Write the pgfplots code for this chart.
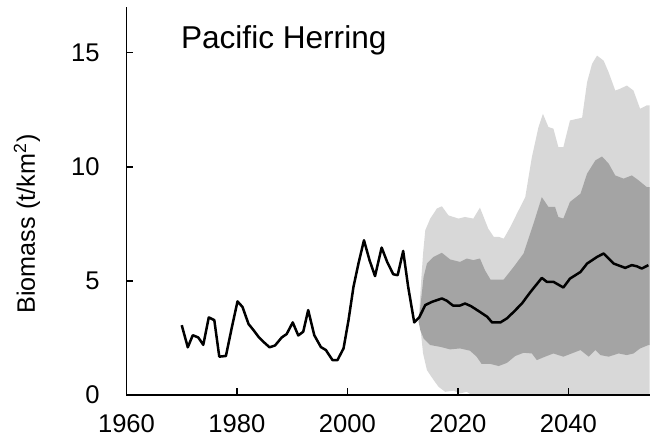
\documentclass[border=0pt]{standalone}
\usepackage{fontspec}
\setmainfont{Liberation Sans}
\usepackage{pgfplots}
\pgfplotsset{compat=1.18}
\definecolor{lightband}{RGB}{216,216,216}
\definecolor{darkband}{RGB}{164,164,164}
\begin{document}
\begin{tikzpicture}
\begin{axis}[
  scale only axis, width=261.5pt, height=194pt,
  xmin=1960, xmax=2054.7, ymin=0, ymax=17,
  axis x line*=bottom, axis y line*=left,
  axis on top,
  xtick={1960,1980,2000,2020,2040},
  ytick={0,5,10,15},
  tick align=inside,
  major tick length=3.5pt,
  tick style={black, line width=0.8pt},
  axis line style={black, line width=0.8pt},
  /pgf/number format/assume math mode=true,
  /pgf/number format/1000 sep={},
  tick label style={font=\fontsize{12.8}{15}\selectfont},
  xticklabel style={anchor=north, inner sep=0pt, yshift=-9.8pt},
  yticklabel style={anchor=east, inner sep=0pt, xshift=-13.25pt},
  ylabel={Biomass (t/km\textsuperscript{2})},
  ylabel style={at={(axis description cs:-0.1902,0.4407)}, anchor=center, font=\fontsize{12.6}{15}\selectfont},
]
\coordinate (sw) at (rel axis cs:0,0);
\coordinate (ne) at (rel axis cs:1,1);
% outer band
\addplot[fill=lightband, draw=none] coordinates {
(2012.9,3.2) (2013.3,4.8) (2013.7,6.2) (2014.1,7.22) (2015.0,7.73) (2016.2,8.17) (2017.1,8.27)
(2018.3,7.87) (2020.1,7.73) (2021.3,7.80) (2022.8,7.73) (2024.0,8.21) (2025.5,7.29)
(2026.5,6.93) (2027.4,6.93) (2028.3,6.85) (2029.5,7.36) (2030.7,7.95) (2032.2,8.67)
(2033.4,10.42) (2034.6,11.74) (2035.4,12.32) (2036.4,11.74) (2037.3,11.67) (2038.2,10.86)
(2039.1,10.86) (2040.3,12.03) (2042.5,12.15) (2043.4,13.71) (2044.3,14.51) (2045.2,14.87)
(2046.4,14.65) (2047.3,14.14) (2048.5,13.34) (2049.4,13.42) (2050.6,13.56) (2051.8,13.34)
(2053.0,12.54) (2054.2,12.69) (2054.7,12.69)
(2054.7,0) (2022.5,0) (2021.6,0.14) (2020.4,0.07) (2019.2,0.19) (2017.7,0.14)
(2016.5,0.36) (2015.6,0.66) (2014.4,1.09) (2013.7,1.82) (2013.2,2.99)
} -- cycle;
% inner band
\addplot[fill=darkband, draw=none] coordinates {
(2012.9,3.2) (2013.4,4.3) (2013.8,5.18) (2014.4,5.76) (2015.6,6.05) (2017.1,6.23) (2018.6,5.94)
(2020.4,5.83) (2021.6,5.98) (2022.8,5.91) (2024.0,5.98) (2024.9,5.47) (2025.9,5.06)
(2028.3,5.06) (2030.1,5.61) (2031.9,6.20) (2033.7,7.51) (2035.2,8.67) (2036.4,8.24)
(2037.6,8.24) (2038.2,7.80) (2039.1,7.73) (2040.3,8.46) (2042.2,8.82) (2043.4,9.70)
(2044.9,10.28) (2046.1,10.45) (2047.3,10.14) (2048.5,9.62) (2050.0,9.48) (2051.5,9.62)
(2052.7,9.41) (2054.2,9.11) (2054.7,9.11)
(2054.7,2.19) (2054.5,2.19) (2053.0,2.04) (2051.8,1.82) (2050.6,1.75) (2049.1,1.82)
(2047.3,1.68) (2045.8,1.75) (2044.9,1.97) (2043.7,1.68) (2042.2,1.97) (2040.6,1.82)
(2039.1,1.68) (2037.3,1.82) (2035.8,1.68) (2034.3,1.53) (2033.4,1.82) (2031.9,1.85)
(2030.4,1.71) (2028.9,1.41) (2027.4,1.27) (2025.9,1.36) (2024.3,1.36) (2023.4,1.68)
(2022.2,1.94) (2020.4,2.04) (2018.6,2.00) (2016.8,2.11) (2015.0,2.19) (2013.8,2.48)
(2013.2,2.84)
} -- cycle;
% biomass line (historical + projected median)
\addplot[black, line width=1.25pt, line join=round] coordinates {
(1970.0,3.06) (1971.1,2.09) (1972.0,2.62) (1973.0,2.52) (1973.9,2.20) (1974.9,3.40)
(1975.9,3.28) (1976.8,1.68) (1978.0,1.71) (1979.1,2.99) (1980.1,4.10) (1981.0,3.86)
(1982.1,3.11) (1983.0,2.84) (1983.9,2.55) (1984.8,2.33) (1985.9,2.09) (1986.9,2.17)
(1988.1,2.52) (1989.0,2.67) (1990.1,3.18) (1991.1,2.61) (1992.0,2.77) (1992.9,3.72)
(1994.0,2.62) (1995.2,2.10) (1996.1,1.97) (1997.3,1.53) (1998.2,1.53) (1999.3,2.04)
(2000.2,3.28) (2001.1,4.74) (2002.0,5.76) (2003.0,6.78) (2004.0,5.91) (2005.0,5.21)
(2006.2,6.46) (2007.2,5.83) (2008.3,5.29) (2009.1,5.25) (2010.1,6.31) (2011.0,4.74)
(2012.1,3.18) (2013.0,3.40) (2014.1,3.94) (2015.3,4.08) (2017.1,4.23) (2018.0,4.13)
(2019.1,3.92) (2020.4,3.92) (2021.3,4.01) (2022.4,3.89) (2024.0,3.64) (2025.3,3.43)
(2026.2,3.18) (2027.7,3.18) (2028.9,3.36) (2030.1,3.64) (2031.6,4.01) (2033.1,4.50)
(2035.2,5.13) (2036.1,4.96) (2037.3,4.96) (2039.1,4.71) (2040.3,5.10) (2042.2,5.39)
(2043.4,5.76) (2045.2,6.05) (2046.4,6.20) (2048.2,5.76) (2050.3,5.57) (2051.5,5.69)
(2052.4,5.64) (2053.3,5.54) (2054.5,5.69)
};
\node[anchor=base west, inner sep=0pt, font=\fontsize{15.8}{19}\selectfont] at (axis cs:1969.8,15.17) {Pacific Herring};
\end{axis}
\pgfresetboundingbox
\path ([xshift=-63.25pt,yshift=-23pt]sw) rectangle ([xshift=0.25pt,yshift=3.5pt]ne);
\end{tikzpicture}
\end{document}
